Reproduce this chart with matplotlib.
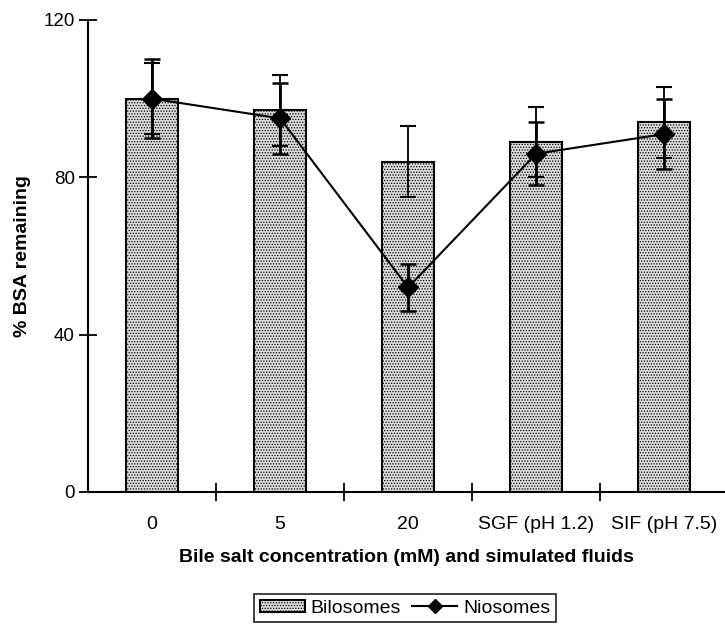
import matplotlib
matplotlib.use('Agg')
from matplotlib import pyplot as plt
import numpy as np

plt.rcParams['font.family'] = ['Liberation Sans', 'DejaVu Sans']
plt.rcParams['hatch.color'] = '#777777'
plt.rcParams['hatch.linewidth'] = 0.6

# Data
categories = ['0', '5', '20', 'SGF (pH 1.2)', 'SIF (pH 7.5)']
bilosomes = [100, 97, 84, 89, 94]
bilosomes_err = [9, 9, 9, 9, 9]
niosomes = [100, 95, 52, 86, 91]
niosomes_err = [10, 9, 6, 8, 9]

x = np.arange(len(categories))

fig = plt.figure(figsize=(7.25, 6.26), dpi=100)
ax = fig.add_axes([88/725, 1 - 492/626, (725 - 88)/725, (492 - 20)/626])

bars = ax.bar(x, bilosomes, width=0.41, color='#dcdcdc', edgecolor='black',
              linewidth=1.5, hatch='......', label='Bilosomes', zorder=2)
ax.errorbar(x, bilosomes, yerr=bilosomes_err, fmt='none', ecolor='black',
            elinewidth=1.3, capsize=6, capthick=1.5, zorder=3)
ax.errorbar(x, niosomes, yerr=niosomes_err, fmt='none', ecolor='black',
            elinewidth=2, capsize=6, capthick=1.8, zorder=3)
line, = ax.plot(x, niosomes, color='black', linewidth=1.5, marker='D',
                markersize=10, label='Niosomes', zorder=4)

ax.set_xlim(-0.5, 4.475)
ax.set_ylim(0, 120)
ax.set_yticks([0, 40, 80, 120])

# boundary ticks between categories, labels at the centres
ax.set_xticks([0.5, 1.5, 2.5, 3.5])
ax.set_xticklabels([])
ax.set_xticks(x, minor=True)
ax.set_xticklabels(categories, minor=True)
ax.tick_params(axis='x', which='minor', length=0, pad=17, labelsize=14)
ax.tick_params(axis='x', which='major', direction='inout', length=13, width=1.3)
ax.tick_params(axis='y', direction='inout', length=13, width=1.3, labelsize=13.5, pad=3)

for side in ['top', 'right']:
    ax.spines[side].set_visible(False)
for side in ['left', 'bottom']:
    ax.spines[side].set_linewidth(1.5)

ax.set_ylabel('% BSA remaining', fontsize=14, fontweight='bold', labelpad=9)
ax.set_xlabel('Bile salt concentration (mM) and simulated fluids', fontsize=14,
              fontweight='bold', labelpad=12)

leg = fig.legend(handles=[bars, line], labels=['Bilosomes', 'Niosomes'],
                 loc='lower center', bbox_to_anchor=(405/725, 4/626), ncol=2,
                 frameon=True, fancybox=False, edgecolor='black', fontsize=14,
                 handlelength=2.3, handleheight=0.6, handletextpad=0.3,
                 columnspacing=0.6, borderpad=0.28, borderaxespad=0,
                 markerscale=0.75)
leg.get_frame().set_linewidth(1.3)

fig.savefig('out.png', dpi=100)
